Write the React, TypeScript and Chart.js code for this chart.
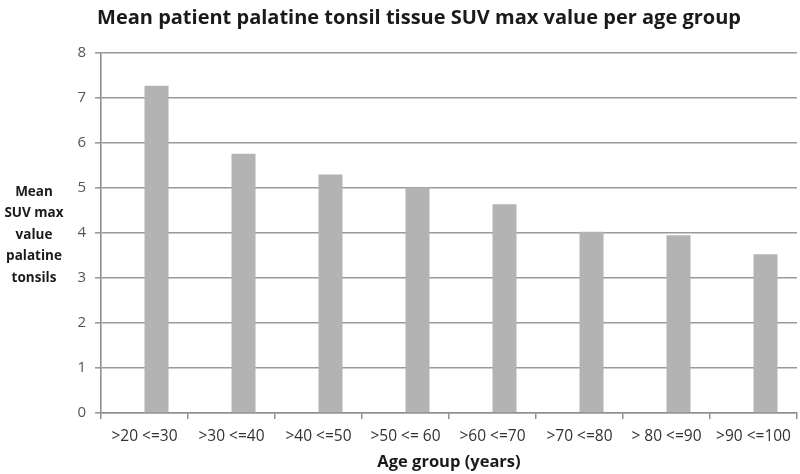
import React, { useEffect, useRef } from "react";
import { Chart, registerables } from "chart.js";

Chart.register(...registerables);

const categories = [">20 <=30", ">30 <=40", ">40 <=50", ">50 <= 60", ">60 <=70", ">70 <=80", "> 80 <=90", ">90 <=100"];
const meanSuvMax = [7.27, 5.76, 5.3, 5.01, 4.64, 4.03, 3.95, 3.53];
const emptySlot = [null, null, null, null, null, null, null, null];
const chartTitle = "Mean patient palatine tonsil tissue SUV max value per age group";
const yTitleLines = ["Mean", "SUV max", "value", "palatine", "tonsils"];
const xTitle = "Age group (years)";
const FONT = "'Open Sans', 'Liberation Sans', sans-serif";

const textPlugin = {
  id: "customText",
  afterDraw(chart: any) {
    const ctx = chart.ctx;
    ctx.save();
    ctx.fillStyle = "#1a1a1a";
    ctx.textAlign = "center";
    ctx.textBaseline = "middle";
    ctx.font = `bold 20px ${FONT}`;
    ctx.fillText(chartTitle, 419, 18);
    ctx.font = `bold 13.5px ${FONT}`;
    yTitleLines.forEach((line, i) => {
      ctx.fillText(line, 34, 192 + i * 21.5);
    });
    ctx.restore();
  },
};

export default function App() {
  const ref = useRef<HTMLCanvasElement>(null);
  useEffect(() => {
    document.body.style.margin = "0";
    const chart = new Chart(ref.current!, {
      type: "bar",
      data: {
        labels: categories,
        datasets: [
          { data: emptySlot as any, backgroundColor: "rgba(0,0,0,0)" },
          { data: meanSuvMax, backgroundColor: "#b3b3b3", borderWidth: 0 },
        ],
      },
      options: {
        animation: false,
        responsive: false,
        maintainAspectRatio: false,
        layout: { padding: { top: 53, left: 0, right: 3, bottom: 0 } },
        datasets: { bar: { categoryPercentage: 0.552, barPercentage: 1 } },
        plugins: {
          legend: { display: false },
          title: { display: false },
          tooltip: { enabled: false },
        },
        scales: {
          x: {
            grid: { drawOnChartArea: false, drawTicks: true, tickLength: 6, offset: true, color: "#8f8f8f", lineWidth: 1.5 },
            border: { color: "#8f8f8f", width: 1.5 },
            ticks: { color: "#333", font: { family: FONT, size: 15.5 }, padding: 8, maxRotation: 0, autoSkip: false },
            title: { display: true, text: xTitle, color: "#1a1a1a", font: { family: FONT, size: 16.5, weight: "bold" }, padding: { top: 0, bottom: 2 } },
            afterFit(scale: any) { scale.height = 61; },
          },
          y: {
            min: 0,
            max: 8,
            ticks: { stepSize: 1, color: "#555", font: { family: FONT, size: 15 }, padding: 9 },
            grid: { color: "#999", lineWidth: 1.6, tickLength: 6 },
            border: { color: "#8f8f8f", width: 1.6 },
            afterFit(scale: any) { scale.width = 101; },
          },
        },
      },
      plugins: [textPlugin],
    });
    return () => chart.destroy();
  }, []);
  return <canvas ref={ref} width={800} height={474} style={{ display: "block" }} />;
}
